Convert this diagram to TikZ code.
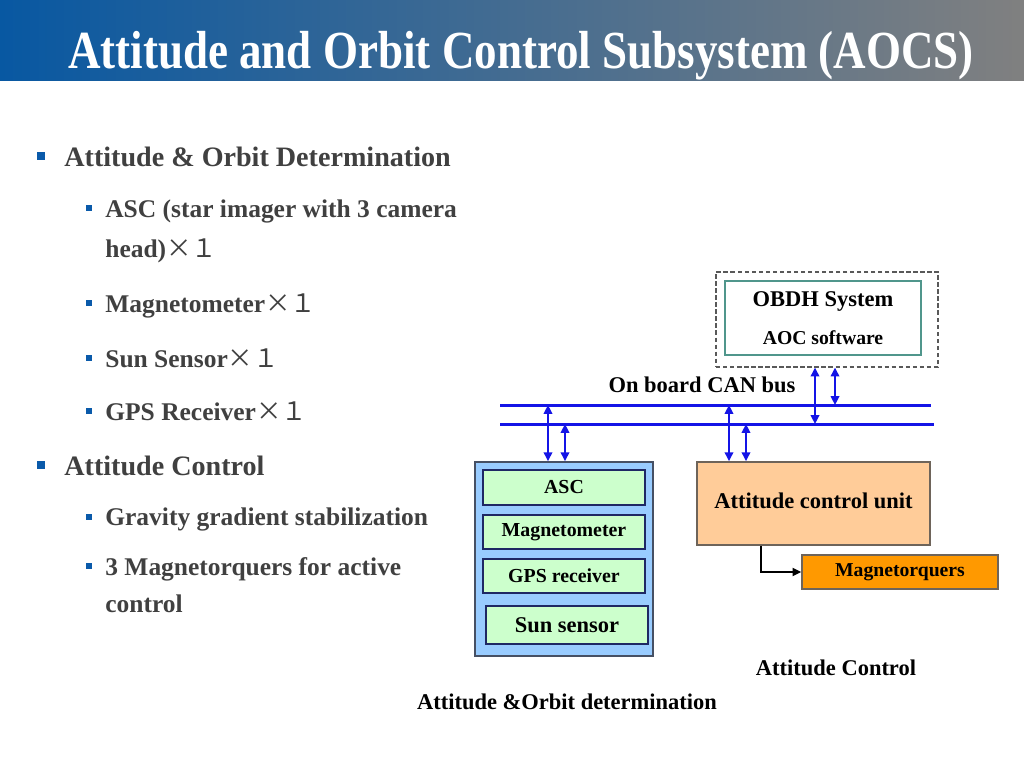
\documentclass[tikz,border=0pt]{standalone}
\usepackage{fontspec}
\setmainfont{Liberation Serif}
\newfontfamily\cjk{Noto Sans CJK JP}
\usetikzlibrary{arrows.meta}
\definecolor{hdrblue}{RGB}{8,88,162}
\definecolor{hdrgray}{RGB}{128,128,128}
\definecolor{bultxt}{RGB}{64,64,64}
\definecolor{bulsq}{RGB}{10,90,170}
\definecolor{busblue}{RGB}{20,20,230}
\definecolor{aodfill}{RGB}{153,204,255}
\definecolor{aodedge}{RGB}{70,80,100}
\definecolor{sensfill}{RGB}{204,255,204}
\definecolor{sensedge}{RGB}{30,40,100}
\definecolor{acufill}{RGB}{255,204,153}
\definecolor{acuedge}{RGB}{110,100,90}
\definecolor{mtqfill}{RGB}{255,153,0}
\definecolor{obdhedge}{RGB}{80,150,140}
\newcommand{\ximes}{{\cjk\mdseries ×１}}
\tikzset{
  mainbul/.style={anchor=base west, text=bultxt, inner sep=0pt, font=\fontsize{16}{19}\selectfont\bfseries},
  subbul/.style={anchor=base west, text=bultxt, inner sep=0pt, font=\fontsize{14.5}{17}\selectfont\bfseries},
  sqmain/.style={fill=bulsq, minimum size=0.16cm, inner sep=0pt},
  sqsub/.style={fill=bulsq, minimum size=0.12cm, inner sep=0pt},
  sensor/.style={draw=sensedge, fill=sensfill, line width=0.8pt, minimum width=3.24cm, minimum height=0.68cm, inner sep=0pt, font=\fontsize{11.3}{13}\selectfont\bfseries},
  busline/.style={busblue, line width=1.7pt},
  busarrow/.style={busblue, line width=1.1pt, {Triangle[length=5pt,width=4.8pt]}-{Triangle[length=5pt,width=4.8pt]}},
  ctrlarrow/.style={black, line width=0.9pt, -{Triangle[length=5pt,width=4.6pt]}},
  biglbl/.style={inner sep=0pt, font=\fontsize{12.8}{15}\selectfont\bfseries},
  smalllbl/.style={inner sep=0pt, font=\fontsize{11.2}{13}\selectfont\bfseries},
}
\begin{document}
\begin{tikzpicture}[x=0.02cm,y=-0.02cm]
\useasboundingbox (0,0) rectangle (1024,768);
\fill[white] (0,0) rectangle (1024,768);
% header
\shade[left color=hdrblue, right color=hdrgray] (0,0) rectangle (1024,80);
\node[anchor=base, inner sep=0pt, text=white, font=\fontsize{30.5}{34}\selectfont\bfseries] (title) at (521,68) {\scalebox{0.84}[1]{Attitude and Orbit Control Subsystem (AOCS)}};

% bullets
\node[sqmain] (sq1) at (41,156) {};
\node[mainbul] (b1) at (64,166) {Attitude \& Orbit Determination};
\node[sqsub] (sq11) at (89,208) {};
\node[subbul] (b11) at (105,217) {ASC (star imager with 3 camera};
\node[subbul] (b11b) at (105,257) {head)\ximes};
\node[sqsub] (sq12) at (89,303) {};
\node[subbul] (b12) at (105,312) {Magnetometer\ximes};
\node[sqsub] (sq13) at (89,358) {};
\node[subbul] (b13) at (105,367) {Sun Sensor\ximes};
\node[sqsub] (sq14) at (89,411) {};
\node[subbul] (b14) at (105,420) {GPS Receiver\ximes};
\node[sqmain] (sq2) at (41,465) {};
\node[mainbul] (b2) at (64,475) {Attitude Control};
\node[sqsub] (sq21) at (89,517) {};
\node[subbul] (b21) at (105,525) {Gravity gradient stabilization};
\node[sqsub] (sq22) at (89,566) {};
\node[subbul] (b22) at (105,575) {3 Magnetorquers for active};
\node[subbul] (b22b) at (105,612) {control};

% OBDH
\node[draw=black!65, dash pattern=on 2.5pt off 1.5pt, line width=0.7pt, minimum width=4.44cm, minimum height=1.9cm, inner sep=0pt] (dash) at (827,319.5) {};
\node[draw=obdhedge, fill=white, line width=0.8pt, minimum width=3.92cm, minimum height=1.48cm, inner sep=0pt] (obdh) at (823,318) {};
\node[biglbl] (obdht) at (823,301) {OBDH System};
\node[smalllbl] (aoc) at (823,338) {AOC software};

\node[biglbl] (canlbl) at (702,385) {On board CAN bus};

% bus
\coordinate (bus1w) at (500,405);
\coordinate (bus1e) at (931,405);
\coordinate (bus2w) at (500,424);
\coordinate (bus2e) at (934,424);
\draw[busline] (bus1w) -- (bus1e);
\draw[busline] (bus2w) -- (bus2e);

% left box
\node[draw=aodedge, fill=aodfill, line width=1pt, minimum width=3.56cm, minimum height=3.88cm, inner sep=0pt] (aod) at (564,559) {};
\node[sensor, minimum height=0.70cm] (asc) at (564,487.5) {ASC};
\node[sensor] (mag) at (564,532) {Magnetometer};
\node[sensor] (gps) at (564,576) {GPS receiver};
\node[sensor, minimum height=0.76cm, font=\fontsize{12.8}{15}\selectfont\bfseries] (sun) at (567,625) {Sun sensor};

% ACU
\node[draw=acuedge, fill=acufill, line width=1pt, minimum width=4.66cm, minimum height=1.66cm, inner sep=0pt, font=\fontsize{12.8}{15}\selectfont\bfseries] (acu) at (813.5,503.5) {\raisebox{3pt}{Attitude control unit}};
\node[draw=acuedge, fill=mtqfill, line width=0.8pt, minimum width=3.92cm, minimum height=0.68cm, inner sep=0pt, font=\fontsize{11.2}{13}\selectfont\bfseries] (mtq) at (900,572) {Magnetorquers};

% arrows
\coordinate (t1) at (815,424);
\coordinate (t2) at (835,405);
\coordinate (t3) at (548,405);
\coordinate (t4) at (565,424);
\coordinate (t5) at (729,405);
\coordinate (t6) at (746,424);
\coordinate (c1) at (761,545);
\draw[busarrow] (dash.south -| t1) -- (t1);
\draw[busarrow] (dash.south -| t2) -- (t2);
\draw[busarrow] (t3) -- (t3 |- aod.north);
\draw[busarrow] (t4) -- (t4 |- aod.north);
\draw[busarrow] (t5) -- (t5 |- acu.north);
\draw[busarrow] (t6) -- (t6 |- acu.north);
\draw[ctrlarrow] (acu.south -| c1) |- (mtq.west);

% captions
\node[biglbl] (aclbl) at (836,668) {Attitude Control};
\node[biglbl] (aodlbl) at (567,702) {Attitude \&Orbit determination};
\end{tikzpicture}
\end{document}
